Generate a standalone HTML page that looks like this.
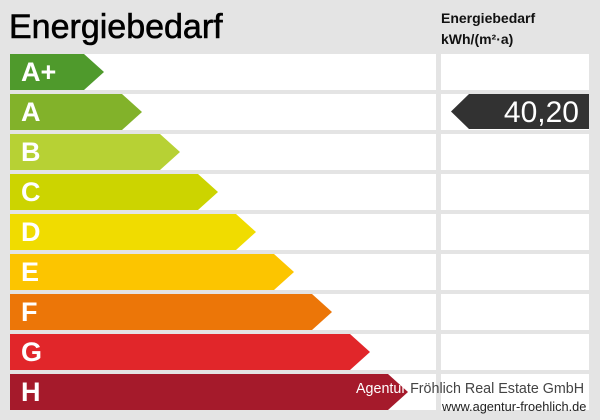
<!DOCTYPE html>
<html><head><meta charset="utf-8"><style>
body{margin:0;width:600px;height:420px;background:#e4e4e4;font-family:"Liberation Sans",sans-serif;position:relative;overflow:hidden}
.t{position:absolute;left:9px;top:8px;font-size:34px;color:#000;-webkit-text-stroke:0.6px #000}
.h{position:absolute;left:441px;top:8px;font-size:14px;font-weight:bold;line-height:21px;color:#111}
.row{position:absolute;left:10px;width:426px;height:36px;background:#fff}
.rc{position:absolute;left:441px;width:148px;height:36px;background:#fff}
.ar{position:absolute;left:10px;height:36px}
.lb{position:absolute;left:11px;top:3px;font-size:27px;font-weight:bold;color:#fff}
.v{position:absolute;left:451px;top:94px;width:138px;height:35px;background:#323232;clip-path:polygon(18px 0,100% 0,100% 100%,18px 100%,0 50%)}
.v span{position:absolute;right:10px;top:2px;color:#fff;font-size:30px}
.f1{position:absolute;left:356px;top:381px;font-size:14.3px;color:#fff;white-space:nowrap}
.f2{position:absolute;left:442px;top:399px;font-size:12.8px;color:#222;white-space:nowrap}
</style></head><body>
<div class="t">Energiebedarf</div>
<div class="h">Energiebedarf<br>kWh/(m²·a)</div>
<div id="r"></div>
<script>
var c=["#4f9a2c","#82b22a","#b7d134","#ccd400","#f0dc00","#fcc500","#ec7608","#e1262a","#a51a2b"],
l=["A+","A","B","C","D","E","F","G","H"],h="";
for(var i=0;i<9;i++){var y=54+i*40,w=94+i*38;
h+='<div class="row" style="top:'+y+'px"></div><div class="rc" style="top:'+y+'px"></div>'+
'<div class="ar" style="top:'+y+'px;width:'+w+'px;background:'+c[i]+';clip-path:polygon(0 0,'+(w-20)+'px 0,100% 50%,'+(w-20)+'px 100%,0 100%)"><span class="lb">'+l[i]+'</span></div>';}
document.getElementById("r").innerHTML=h;
</script>
<div class="v"><span>40,20</span></div>
<div class="f1"><span style="color:#fff">Agentur</span> <span style="color:#444">Fröhlich Real Estate GmbH</span></div>
<div class="f2">www.agentur-froehlich.de</div>
</body></html>
